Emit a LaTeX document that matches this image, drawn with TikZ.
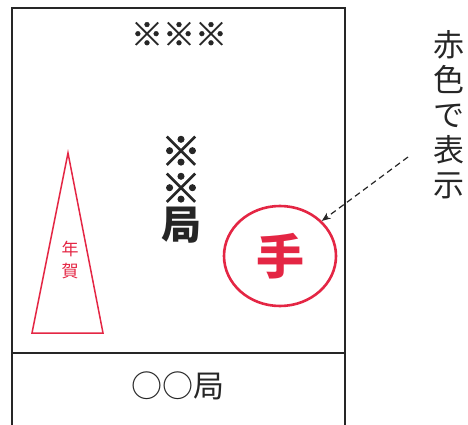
\documentclass[tikz,border=0pt]{standalone}
\usepackage{fontspec}
\newfontfamily\cjk{Noto Sans CJK JP}
\newfontfamily\cjkfat[FakeBold=2.5]{Noto Sans CJK JP}
\newfontfamily\cjkmed[FakeBold=1.2]{Noto Sans CJK JP}
\usetikzlibrary{arrows.meta,shapes.geometric}
\definecolor{stampred}{RGB}{228,38,68}
\tikzset{
  frame/.style={draw=black!85, line width=2.6pt},
  blacktext/.style={font=\cjk, text=black!85, inner sep=0pt},
  redtext/.style={font=\cjk, text=stampred, inner sep=0pt},
}
\begin{document}
\begin{tikzpicture}[x=1pt,y=-1pt]
\useasboundingbox (0,0) rectangle (468,425);
\clip (0,0) rectangle (468,425);
% frame
\draw[frame] (12,430) -- (12,8) -- (345,8) -- (345,430);
\draw[frame] (12,353) -- (345,353);
% texts
\node[blacktext, font=\cjkmed\fontsize{32}{32}\selectfont] (top) at (179,34) {※※※};
\node[blacktext, font=\cjkfat\fontsize{40}{37}\selectfont, align=center] (kyoku) at (181,190) {※\\※\\{\cjk\bfseries 局}};
\node[blacktext, font=\cjk\fontsize{31}{31}\selectfont] (oo) at (178,386) {○○局};
% triangle
\coordinate (tA) at (68,153);
\coordinate (tB) at (32,333);
\coordinate (tC) at (103,333);
\draw[draw=stampred, line width=1.5pt, line join=miter] (tA) -- (tB) -- (tC) -- cycle;
\node[redtext, font=\cjk\fontsize{17}{22}\selectfont, align=center] (nenga) at (70,260) {年\\賀};
% stamp
\node[draw=stampred, line width=2.6pt, ellipse, minimum width=112pt, minimum height=100pt, inner sep=0pt] (stamp) at (280,256) {};
\node[redtext, font=\cjk\bfseries\fontsize{48}{48}\selectfont] (te) at (280,256) {手};
% label
\node[blacktext, font=\cjk\fontsize{31}{35}\selectfont, align=center] (label) at (449,115) {赤\\色\\で\\表\\示};
\coordinate (dstart) at (408,157);
\draw[dashed, line width=1.2pt, dash pattern=on 6pt off 4pt, -{Stealth[length=9pt,width=7pt]}, black!85] (dstart) -- (stamp.40);
\end{tikzpicture}
\end{document}
